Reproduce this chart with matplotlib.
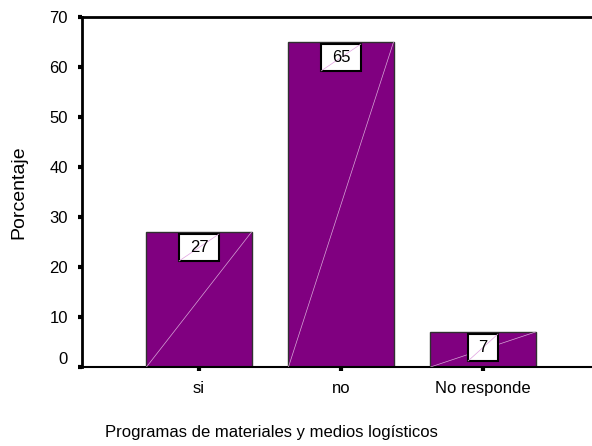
import matplotlib
matplotlib.use("Agg")
import matplotlib.pyplot as plt
import matplotlib.transforms as mtransforms
from matplotlib.patches import Rectangle

plt.rcParams['font.family'] = ['Liberation Sans', 'DejaVu Sans']

categories = ["si", "no", "No responde"]
percentages = [27, 65, 7]
y_ticks = [0, 10, 20, 30, 40, 50, 60, 70]

W, H = 592, 446
fig = plt.figure(figsize=(W / 100, H / 100), dpi=100)
left, right, top, bottom = 82, 600, 17, 367
ax = fig.add_axes([left / W, 1 - bottom / H, (right - left) / W, (bottom - top) / H])

x = list(range(len(categories)))
bar_w = 0.74
ax.bar(x, percentages, width=bar_w, color="#800080", edgecolor="#303030",
       linewidth=1.0, zorder=2)

ax.set_xlim(-0.824, 2.824)
ax.set_ylim(0, 70)

# faint diagonal stroke across each bar
for xi, v in zip(x, percentages):
    ax.plot([xi - bar_w / 2, xi + bar_w / 2], [0, v], color="#d8a8d8",
            linewidth=0.5, zorder=3)

# value boxes near the top of each bar
px_x = (right - left) / (2.824 + 0.824)   # pixels per x unit
px_y = (bottom - top) / 70.0               # pixels per y unit
for xi, v in zip(x, percentages):
    label = str(v)
    bw = (40 if len(label) > 1 else 30) / px_x
    bh = 27 / px_y
    top_y = v - 2 / px_y
    rect = Rectangle((xi - bw / 2, top_y - bh), bw, bh, facecolor="white",
                     edgecolor="black", linewidth=1.5, zorder=4)
    ax.add_patch(rect)
    ax.plot([xi - bw / 2, xi + bw / 2], [top_y - bh, top_y], color="#e0a0e0",
            linewidth=0.5, zorder=5)
    ax.text(xi, top_y - bh / 2, label, ha="center", va="center", fontsize=12,
            color="black", zorder=6)

ax.set_xticks(x)
ax.set_xticklabels(categories, fontsize=12)
ax.set_yticks(y_ticks)
ax.set_yticklabels([str(t) for t in y_ticks], fontsize=12)
ax.tick_params(axis="y", direction="out", length=3, width=3, pad=7)
ax.tick_params(axis="x", direction="out", length=3, width=3, pad=7)

# the zero label sits a little above its tick
zero_lbl = ax.get_yticklabels()[0]
zero_lbl.set_transform(zero_lbl.get_transform() +
                       mtransforms.ScaledTranslation(0, 9 / 100, fig.dpi_scale_trans))

ax.spines["right"].set_visible(False)
ax.spines["left"].set_linewidth(2)
ax.spines["top"].set_linewidth(2)
ax.spines["bottom"].set_linewidth(1.5)

fig.text(19 / W, 1 - 192 / H, "Porcentaje", rotation=90, ha="center", va="center",
         fontsize=14)
fig.text(271 / W, 1 - 432 / H, "Programas de materiales y medios logísticos",
         ha="center", va="center", fontsize=12)

fig.savefig("out.png", dpi=100)
